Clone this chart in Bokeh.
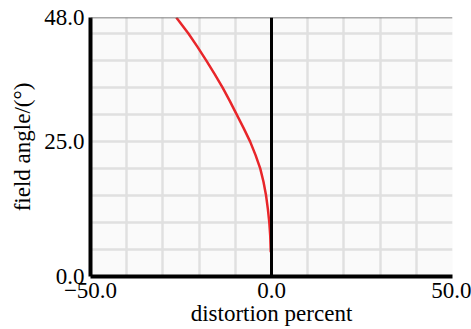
from bokeh.plotting import figure
from bokeh.models import Range1d, FixedTicker, SingleIntervalTicker, Span
from bokeh.embed import file_html
from bokeh.resources import INLINE

# data
field_angle = [4.5, 7.5, 10, 12.5, 15, 17.5, 20, 22.5, 25, 27.5, 30, 32.5, 35, 37.5, 40, 42.5, 45, 48]
distortion = [-0.2, -0.35, -0.6, -1.0, -1.5, -2.2, -3.1, -4.4, -5.9, -7.7, -9.6, -11.5, -13.5,
              -15.7, -18.0, -20.4, -22.9, -26.3]

x_ticks = [-50, 0, 50]
x_tick_labels = ["\u221250.0", "0.0", "50.0"]
y_ticks = [0, 25, 48]
y_tick_labels = ["0.0", "25.0", "48.0"]

FONT = "Liberation Serif"

p = figure(width=471, height=329, output_backend="svg", toolbar_location=None,
           x_range=Range1d(-50, 50), y_range=Range1d(0, 48))
p.min_border_left = 90
p.min_border_right = 19
p.min_border_top = 17
p.min_border_bottom = 53
p.background_fill_color = "#fafafa"
p.border_fill_color = "white"
p.outline_line_color = None

p.xaxis.ticker = FixedTicker(ticks=x_ticks)
p.yaxis.ticker = FixedTicker(ticks=y_ticks)
p.xaxis.major_label_overrides = dict(zip(x_ticks, x_tick_labels))
p.yaxis.major_label_overrides = dict(zip(y_ticks, y_tick_labels))

p.xgrid.ticker = SingleIntervalTicker(interval=10)
p.ygrid.ticker = SingleIntervalTicker(interval=5)
for g in (p.xgrid, p.ygrid):
    g.grid_line_color = "#e0e0e0"
    g.grid_line_width = 2.5

for ax in (p.xaxis, p.yaxis):
    ax.axis_line_color = "black"
    ax.axis_line_width = 4
    ax.major_tick_line_color = None
    ax.minor_tick_line_color = None
    ax.major_tick_out = 0
    ax.major_tick_in = 0
    ax.minor_tick_out = 0
    ax.major_label_text_font = FONT
    ax.major_label_text_font_size = "23px"
    ax.major_label_text_color = "black"
    ax.axis_label_text_font = FONT
    ax.axis_label_text_font_size = "23px"
    ax.axis_label_text_font_style = "normal"
    ax.axis_label_text_color = "black"

p.xaxis.axis_label = "distortion percent"
p.yaxis.axis_label = "field angle/(\u00b0)"
p.xaxis.major_label_standoff = 6
p.xaxis.axis_label_standoff = 0
p.xaxis.major_label_text_line_height = 0.7
p.xaxis.axis_label_text_line_height = 0.7
p.yaxis.major_label_standoff = 6
p.yaxis.axis_label_standoff = 6
p.yaxis.major_label_orientation = "horizontal"

p.add_layout(Span(location=48, dimension="width", line_color="#555555", line_width=1.5))
p.add_layout(Span(location=0, dimension="height", line_color="black", line_width=3))

p.line(distortion, field_angle, line_color="#e8262a", line_width=2.5)

open("out.html", "w").write(file_html(p, INLINE))
